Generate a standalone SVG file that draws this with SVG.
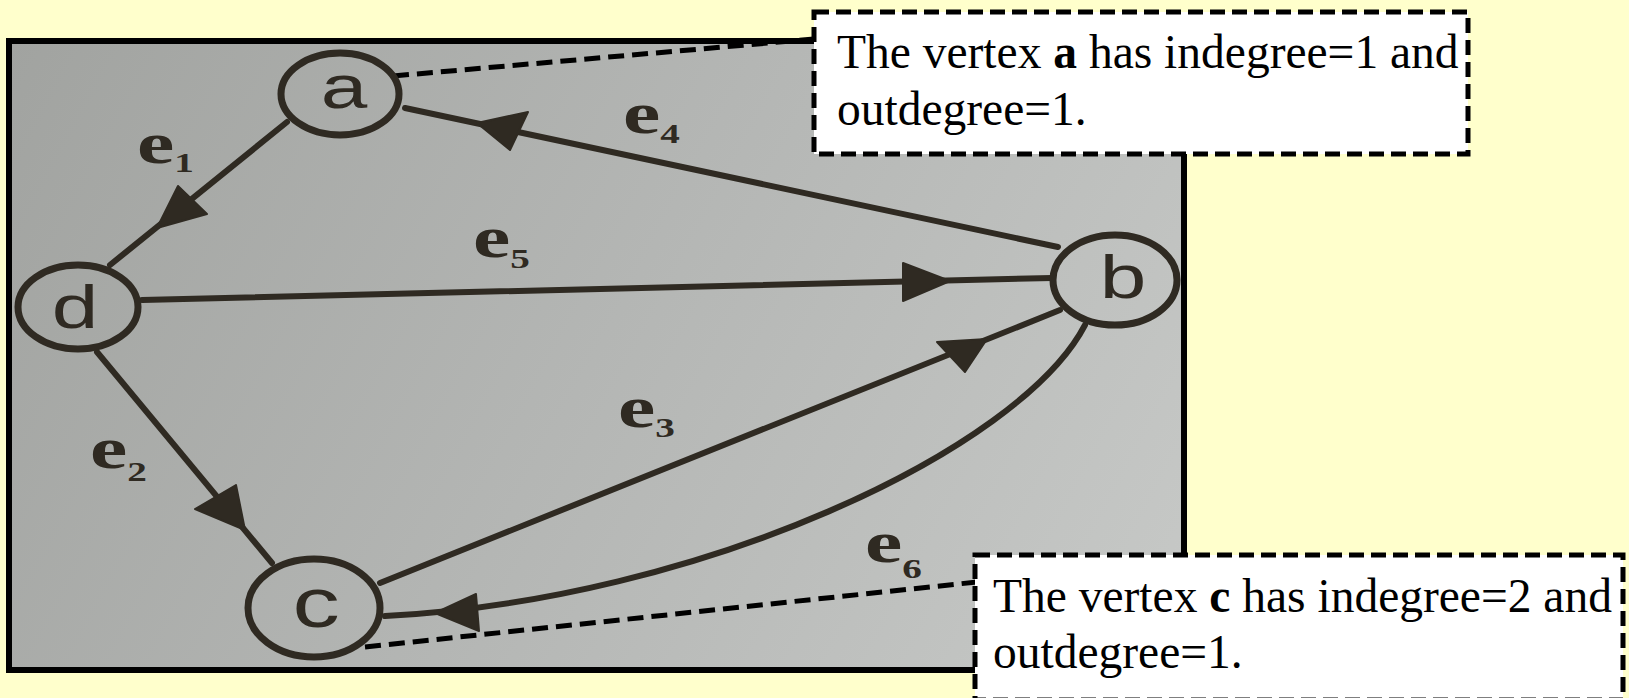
<svg xmlns="http://www.w3.org/2000/svg" width="1629" height="698" viewBox="0 0 1629 698">
<defs>
<linearGradient id="paper" gradientUnits="userSpaceOnUse" x1="9" y1="41" x2="1184" y2="670">
<stop offset="0" stop-color="#a1a3a0"/>
<stop offset="0.5" stop-color="#b4b6b4"/>
<stop offset="1" stop-color="#c7c9c7"/>
</linearGradient>
<style>
.ink{stroke:#2f2a22;stroke-width:6;fill:none;stroke-linecap:round}
.node{stroke:#2f2a22;stroke-width:7;fill:none}
.arrow{fill:#2f2a22;stroke:#2f2a22;stroke-width:2;stroke-linejoin:round}
.nlabel{font-family:"Liberation Sans",Arial,sans-serif;fill:#2f2a22;text-anchor:middle}
.elabel{font-family:"Liberation Serif","Times New Roman",serif;font-weight:bold;fill:#2f2a22;font-size:60px}
.sub{font-size:28px}
.leader{stroke:#000;stroke-width:5;stroke-dasharray:16 8;fill:none}
.box{fill:#fff;stroke:#000;stroke-width:5;stroke-dasharray:15 7}
.btext{font-family:"Liberation Serif","Times New Roman",serif;font-size:47.5px;fill:#000}
</style>
</defs>
<rect width="1629" height="698" fill="#ffffcc"/>
<g id="photo">
<rect x="9" y="41" width="1175" height="629" fill="url(#paper)" stroke="#000" stroke-width="6"/>
</g>
<g id="connectors">
<g id="edge-e1">
<line class="ink" x1="287" y1="122" x2="110" y2="265"/>
<polygon class="arrow" points="157,228 178,186 207,214"/>
<text class="elabel" transform="translate(137,163) scale(1.4,1)">e<tspan class="sub" dy="9">1</tspan></text>
</g>
<g id="edge-e2">
<line class="ink" x1="97" y1="352" x2="272" y2="563"/>
<polygon class="arrow" points="245,530 236,485 195,509"/>
<text class="elabel" transform="translate(90,468) scale(1.4,1)">e<tspan class="sub" dy="13">2</tspan></text>
</g>
<g id="edge-e3">
<line class="ink" x1="380" y1="583" x2="1060" y2="310"/>
<polygon class="arrow" points="987,339 937,342 965,372"/>
<text class="elabel" transform="translate(618,427) scale(1.4,1)">e<tspan class="sub" dy="10">3</tspan></text>
</g>
<g id="edge-e4">
<line class="ink" x1="1058" y1="247" x2="405" y2="108"/>
<polygon class="arrow" points="477,123 528,112 510,150"/>
<text class="elabel" transform="translate(623,133) scale(1.4,1)">e<tspan class="sub" dy="10">4</tspan></text>
</g>
<g id="edge-e5">
<line class="ink" x1="142" y1="300" x2="1052" y2="278"/>
<polygon class="arrow" points="950,281 903,263 903,301"/>
<text class="elabel" transform="translate(473,257) scale(1.4,1)">e<tspan class="sub" dy="11">5</tspan></text>
</g>
<g id="edge-e6">
<path class="ink" d="M1085,325 C1020,450 700,600 385,616"/>
<polygon class="arrow" points="435,613 476,594 479,631"/>
<text class="elabel" transform="translate(865,562) scale(1.4,1)">e<tspan class="sub" dy="16">6</tspan></text>
</g>
<line id="leader-a" class="leader" x1="393" y1="76" x2="814" y2="39"/>
<line id="leader-c" class="leader" x1="365" y1="647" x2="977" y2="582"/>
</g>
<g id="node-a">
<ellipse class="node" cx="340" cy="94" rx="59" ry="41"/>
<text class="nlabel" font-size="62" transform="translate(344,108) scale(1.35,1)">a</text>
</g>
<g id="node-b">
<ellipse class="node" cx="1115" cy="280" rx="62" ry="45"/>
<text class="nlabel" font-size="62" transform="translate(1123,298) scale(1.35,1)">b</text>
</g>
<g id="node-c">
<ellipse class="node" cx="314" cy="608" rx="66" ry="49"/>
<text class="nlabel" font-size="70" transform="translate(316,627) scale(1.35,1)">c</text>
</g>
<g id="node-d">
<ellipse class="node" cx="78" cy="307" rx="60" ry="42"/>
<text class="nlabel" font-size="62" transform="translate(75,328) scale(1.35,1)">d</text>
</g>
<g id="callout-a">
<rect class="box" x="814" y="12" width="654" height="142"/>
<text class="btext" x="837" y="68">The vertex <tspan font-weight="bold">a</tspan> has indegree=1 and</text>
<text class="btext" x="837" y="125">outdegree=1.</text>
</g>
<g id="callout-c">
<rect class="box" x="975" y="555" width="648" height="145"/>
<text class="btext" x="993" y="612">The vertex <tspan font-weight="bold">c</tspan> has indegree=2 and</text>
<text class="btext" x="993" y="668">outdegree=1.</text>
</g>
</svg>
